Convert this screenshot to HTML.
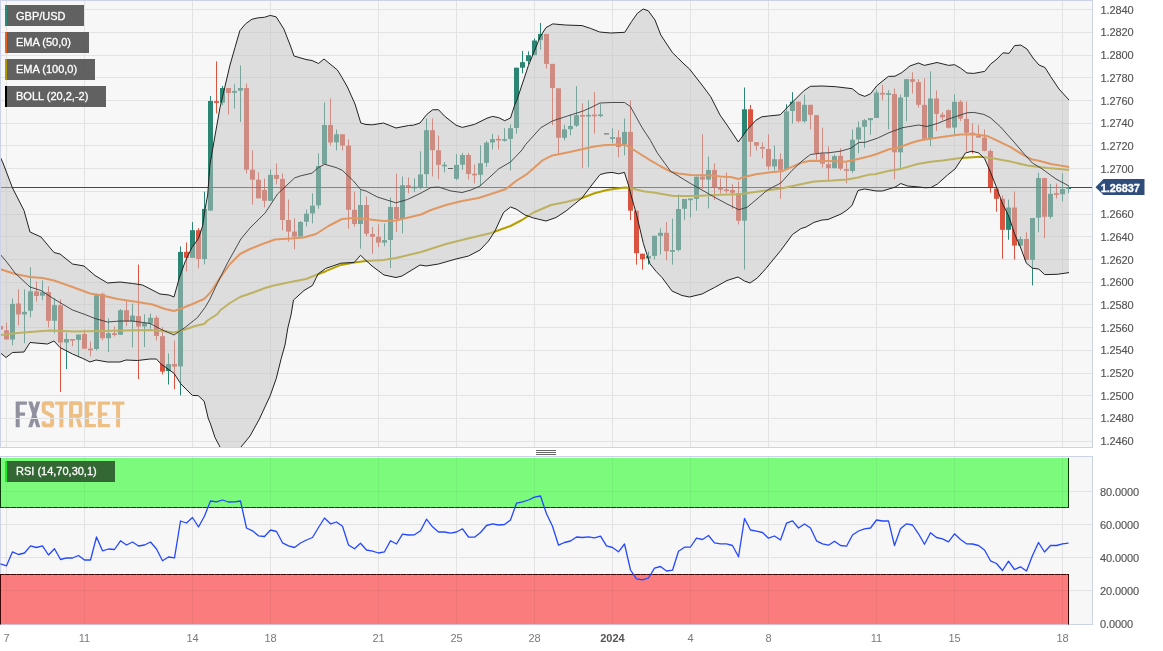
<!DOCTYPE html><html><head><meta charset="utf-8"><title>GBP/USD</title>
<style>html,body{margin:0;padding:0;background:#fff}body{width:1163px;height:651px;overflow:hidden}svg{display:block;will-change:transform;transform:translateZ(0)}text{font-family:"Liberation Sans",sans-serif}</style></head><body>
<svg width="1163" height="651" viewBox="0 0 1163 651">
<defs><clipPath id="cm"><rect x="1" y="1" width="1091" height="446"/></clipPath><clipPath id="cr"><rect x="0" y="457" width="1092" height="167.6"/></clipPath></defs>
<rect width="1163" height="651" fill="#fff"/>
<rect x="0.5" y="0.5" width="1092" height="447" fill="#f7f7f7" stroke="#ccd3e8"/>
<rect x="0.5" y="456.5" width="1092" height="168" fill="#f7f7f7" stroke="#ccd3e8"/>
<g id="logo" fill="#8f919e">
<path d="M15.7,401.4H26.9V404.7H19.7V412.5H25V415.8H19.7V427.2H15.7Z"/>
<path d="M28.2,401.4H32.2L40.3,427.2H36.4Z"/><path d="M36.4,401.4H40.3L32.2,427.2H28.2Z"/>
</g><g fill="#eebf85">
<path d="M52.1,407.7V404.6Q52.1,403.2 50.7,403.2H45.1Q43.7,403.2 43.7,404.6V410.6Q43.7,411.6 44.7,412.1L51.1,415.3Q52.1,415.8 52.1,416.8V424Q52.1,425.4 50.7,425.4H45.1Q43.7,425.4 43.7,424V421.2" fill="none" stroke="#eebf85" stroke-width="3.9"/>
<path d="M55.1,401.4H67.8V404.7H63.4V427.2H59.4V404.7H55.1Z"/>
<path d="M69.1,401.4H73.1V427.2H69.1Z"/>
<path d="M71.1,403.1H79Q80.5,403.1 80.5,404.6V414.2Q80.5,415.7 79,415.7H71.1" fill="none" stroke="#eebf85" stroke-width="3.6"/>
<path d="M75.2,416.5H79.3L82.4,427.2H78.2Z"/>
<path d="M85,401.4H95.9V404.7H89V412.5H92.9V415.8H89V423.9H95.9V427.2H85Z"/>
<path d="M97.9,401.4H110.1V404.7H101.9V412.5H107.2V415.8H101.9V423.9H110.1V427.2H97.9Z"/>
<path d="M112.1,401.4H124.4V404.7H120.1V427.2H116.1V404.7H112.1Z"/>
</g>
<g stroke="#e3e3e3" stroke-width="1" shape-rendering="crispEdges">
<line x1="1" x2="1092" y1="9.5" y2="9.5"/>
<line x1="1" x2="1092" y1="32.5" y2="32.5"/>
<line x1="1" x2="1092" y1="55.5" y2="55.5"/>
<line x1="1" x2="1092" y1="77.5" y2="77.5"/>
<line x1="1" x2="1092" y1="100.5" y2="100.5"/>
<line x1="1" x2="1092" y1="123.5" y2="123.5"/>
<line x1="1" x2="1092" y1="145.5" y2="145.5"/>
<line x1="1" x2="1092" y1="168.5" y2="168.5"/>
<line x1="1" x2="1092" y1="191.5" y2="191.5"/>
<line x1="1" x2="1092" y1="214.5" y2="214.5"/>
<line x1="1" x2="1092" y1="236.5" y2="236.5"/>
<line x1="1" x2="1092" y1="259.5" y2="259.5"/>
<line x1="1" x2="1092" y1="282.5" y2="282.5"/>
<line x1="1" x2="1092" y1="304.5" y2="304.5"/>
<line x1="1" x2="1092" y1="327.5" y2="327.5"/>
<line x1="1" x2="1092" y1="350.5" y2="350.5"/>
<line x1="1" x2="1092" y1="373.5" y2="373.5"/>
<line x1="1" x2="1092" y1="395.5" y2="395.5"/>
<line x1="1" x2="1092" y1="418.5" y2="418.5"/>
<line x1="1" x2="1092" y1="441.5" y2="441.5"/>
<line x1="6.5" x2="6.5" y1="1" y2="447"/>
<line x1="6.5" x2="6.5" y1="457" y2="625"/>
<line x1="84.5" x2="84.5" y1="1" y2="447"/>
<line x1="84.5" x2="84.5" y1="457" y2="625"/>
<line x1="192.5" x2="192.5" y1="1" y2="447"/>
<line x1="192.5" x2="192.5" y1="457" y2="625"/>
<line x1="270.5" x2="270.5" y1="1" y2="447"/>
<line x1="270.5" x2="270.5" y1="457" y2="625"/>
<line x1="378.5" x2="378.5" y1="1" y2="447"/>
<line x1="378.5" x2="378.5" y1="457" y2="625"/>
<line x1="456.5" x2="456.5" y1="1" y2="447"/>
<line x1="456.5" x2="456.5" y1="457" y2="625"/>
<line x1="534.5" x2="534.5" y1="1" y2="447"/>
<line x1="534.5" x2="534.5" y1="457" y2="625"/>
<line x1="612.5" x2="612.5" y1="1" y2="447"/>
<line x1="612.5" x2="612.5" y1="457" y2="625"/>
<line x1="690.5" x2="690.5" y1="1" y2="447"/>
<line x1="690.5" x2="690.5" y1="457" y2="625"/>
<line x1="768.5" x2="768.5" y1="1" y2="447"/>
<line x1="768.5" x2="768.5" y1="457" y2="625"/>
<line x1="876.5" x2="876.5" y1="1" y2="447"/>
<line x1="876.5" x2="876.5" y1="457" y2="625"/>
<line x1="954.5" x2="954.5" y1="1" y2="447"/>
<line x1="954.5" x2="954.5" y1="457" y2="625"/>
<line x1="1062.5" x2="1062.5" y1="1" y2="447"/>
<line x1="1062.5" x2="1062.5" y1="457" y2="625"/>
<line x1="1" x2="1092" y1="491.5" y2="491.5"/>
<line x1="1" x2="1092" y1="524.5" y2="524.5"/>
<line x1="1" x2="1092" y1="557.5" y2="557.5"/>
<line x1="1" x2="1092" y1="590.5" y2="590.5"/>
</g>
<g clip-path="url(#cm)">
<g>
<rect x="0" y="322.0" width="1" height="10.0" fill="#d9533f"/>
<rect x="-2" y="326.0" width="5" height="3.5" fill="#d9533f"/>
<rect x="6" y="322.5" width="1" height="17.0" fill="#d9533f"/>
<rect x="4" y="330.3" width="5" height="9.2" fill="#d9533f"/>
<rect x="12" y="298.5" width="1" height="46.9" fill="#2a8572"/>
<rect x="10" y="303.9" width="5" height="35.6" fill="#2a8572"/>
<rect x="18" y="289.3" width="1" height="36.0" fill="#d9533f"/>
<rect x="16" y="303.5" width="5" height="10.9" fill="#d9533f"/>
<rect x="24" y="289.3" width="1" height="53.9" fill="#2a8572"/>
<rect x="22" y="311.9" width="5" height="2.5" fill="#2a8572"/>
<rect x="30" y="267.2" width="1" height="50.1" fill="#2a8572"/>
<rect x="28" y="291.3" width="5" height="19.4" fill="#2a8572"/>
<rect x="36" y="281.4" width="1" height="20.1" fill="#d9533f"/>
<rect x="34" y="291.3" width="5" height="4.7" fill="#d9533f"/>
<rect x="42" y="280.4" width="1" height="19.8" fill="#2a8572"/>
<rect x="40" y="292.2" width="5" height="3.5" fill="#2a8572"/>
<rect x="48" y="286.3" width="1" height="41.0" fill="#d9533f"/>
<rect x="46" y="292.2" width="5" height="28.6" fill="#d9533f"/>
<rect x="54" y="298.2" width="1" height="35.1" fill="#2a8572"/>
<rect x="52" y="305.2" width="5" height="15.6" fill="#2a8572"/>
<rect x="60" y="299.4" width="1" height="92.6" fill="#d9533f"/>
<rect x="58" y="305.2" width="5" height="37.3" fill="#d9533f"/>
<rect x="66" y="332.8" width="1" height="36.2" fill="#2a8572"/>
<rect x="64" y="339.0" width="5" height="3.5" fill="#2a8572"/>
<rect x="72" y="339.0" width="1" height="7.2" fill="#d9533f"/>
<rect x="70" y="339.0" width="5" height="1.7" fill="#d9533f"/>
<rect x="78" y="334.5" width="1" height="22.6" fill="#2a8572"/>
<rect x="76" y="334.5" width="5" height="5.4" fill="#2a8572"/>
<rect x="84" y="329.5" width="1" height="19.2" fill="#d9533f"/>
<rect x="82" y="334.0" width="5" height="14.7" fill="#d9533f"/>
<rect x="90" y="341.5" width="1" height="14.8" fill="#d9533f"/>
<rect x="88" y="348.6" width="5" height="1.7" fill="#d9533f"/>
<rect x="96" y="293.8" width="1" height="56.6" fill="#2a8572"/>
<rect x="94" y="295.2" width="5" height="53.8" fill="#2a8572"/>
<rect x="102" y="292.7" width="1" height="47.7" fill="#d9533f"/>
<rect x="100" y="293.8" width="5" height="44.4" fill="#d9533f"/>
<rect x="108" y="318.3" width="1" height="33.8" fill="#2a8572"/>
<rect x="106" y="333.2" width="5" height="5.0" fill="#2a8572"/>
<rect x="114" y="326.5" width="1" height="10.0" fill="#d9533f"/>
<rect x="112" y="333.2" width="5" height="1.8" fill="#d9533f"/>
<rect x="120" y="309.0" width="1" height="25.8" fill="#2a8572"/>
<rect x="118" y="310.2" width="5" height="24.6" fill="#2a8572"/>
<rect x="126" y="301.0" width="1" height="25.1" fill="#d9533f"/>
<rect x="124" y="310.2" width="5" height="11.3" fill="#d9533f"/>
<rect x="132" y="303.5" width="1" height="43.9" fill="#2a8572"/>
<rect x="130" y="315.6" width="5" height="5.9" fill="#2a8572"/>
<rect x="138" y="264.5" width="1" height="114.6" fill="#d9533f"/>
<rect x="136" y="316.1" width="5" height="10.4" fill="#d9533f"/>
<rect x="144" y="314.4" width="1" height="32.6" fill="#2a8572"/>
<rect x="142" y="322.8" width="5" height="3.7" fill="#2a8572"/>
<rect x="150" y="313.6" width="1" height="15.1" fill="#2a8572"/>
<rect x="148" y="317.8" width="5" height="5.8" fill="#2a8572"/>
<rect x="156" y="315.6" width="1" height="24.8" fill="#d9533f"/>
<rect x="154" y="317.8" width="5" height="18.1" fill="#d9533f"/>
<rect x="162" y="327.3" width="1" height="47.1" fill="#d9533f"/>
<rect x="160" y="336.2" width="5" height="35.4" fill="#d9533f"/>
<rect x="168" y="353.5" width="1" height="31.0" fill="#2a8572"/>
<rect x="166" y="364.0" width="5" height="7.1" fill="#2a8572"/>
<rect x="174" y="340.5" width="1" height="48.7" fill="#d9533f"/>
<rect x="172" y="364.0" width="5" height="2.6" fill="#d9533f"/>
<rect x="180" y="246.4" width="1" height="149.0" fill="#2a8572"/>
<rect x="178" y="251.9" width="5" height="114.5" fill="#2a8572"/>
<rect x="186" y="242.4" width="1" height="29.1" fill="#d9533f"/>
<rect x="184" y="251.9" width="5" height="5.9" fill="#d9533f"/>
<rect x="192" y="222.1" width="1" height="35.7" fill="#2a8572"/>
<rect x="190" y="230.2" width="5" height="27.6" fill="#2a8572"/>
<rect x="198" y="228.2" width="1" height="40.1" fill="#d9533f"/>
<rect x="196" y="230.2" width="5" height="28.8" fill="#d9533f"/>
<rect x="204" y="191.7" width="1" height="72.8" fill="#2a8572"/>
<rect x="202" y="208.9" width="5" height="50.1" fill="#2a8572"/>
<rect x="210" y="96.0" width="1" height="114.6" fill="#2a8572"/>
<rect x="208" y="101.0" width="5" height="109.6" fill="#2a8572"/>
<rect x="216" y="61.4" width="1" height="51.9" fill="#d9533f"/>
<rect x="214" y="101.2" width="5" height="1.7" fill="#d9533f"/>
<rect x="222" y="86.0" width="1" height="19.2" fill="#2a8572"/>
<rect x="220" y="88.0" width="5" height="14.7" fill="#2a8572"/>
<rect x="228" y="88.0" width="1" height="26.4" fill="#d9533f"/>
<rect x="226" y="88.0" width="5" height="5.0" fill="#d9533f"/>
<rect x="234" y="84.3" width="1" height="24.3" fill="#2a8572"/>
<rect x="232" y="91.0" width="5" height="1.7" fill="#2a8572"/>
<rect x="240" y="65.4" width="1" height="56.6" fill="#2a8572"/>
<rect x="238" y="88.0" width="5" height="2.7" fill="#2a8572"/>
<rect x="246" y="83.5" width="1" height="90.0" fill="#d9533f"/>
<rect x="244" y="88.0" width="5" height="81.7" fill="#d9533f"/>
<rect x="252" y="150.4" width="1" height="54.1" fill="#d9533f"/>
<rect x="250" y="169.7" width="5" height="10.0" fill="#d9533f"/>
<rect x="258" y="172.4" width="1" height="25.9" fill="#d9533f"/>
<rect x="256" y="179.7" width="5" height="18.6" fill="#d9533f"/>
<rect x="264" y="178.5" width="1" height="28.8" fill="#d9533f"/>
<rect x="262" y="190.0" width="5" height="10.8" fill="#d9533f"/>
<rect x="270" y="169.3" width="1" height="31.5" fill="#2a8572"/>
<rect x="268" y="174.9" width="5" height="25.9" fill="#2a8572"/>
<rect x="276" y="163.5" width="1" height="20.9" fill="#d9533f"/>
<rect x="274" y="174.9" width="5" height="4.0" fill="#d9533f"/>
<rect x="282" y="173.5" width="1" height="56.9" fill="#d9533f"/>
<rect x="280" y="178.9" width="5" height="41.1" fill="#d9533f"/>
<rect x="288" y="199.5" width="1" height="42.1" fill="#d9533f"/>
<rect x="286" y="220.0" width="5" height="11.6" fill="#d9533f"/>
<rect x="294" y="218.4" width="1" height="31.0" fill="#d9533f"/>
<rect x="292" y="231.6" width="5" height="5.0" fill="#d9533f"/>
<rect x="300" y="221.0" width="1" height="15.6" fill="#2a8572"/>
<rect x="298" y="222.0" width="5" height="14.6" fill="#2a8572"/>
<rect x="306" y="209.5" width="1" height="16.8" fill="#2a8572"/>
<rect x="304" y="213.7" width="5" height="8.0" fill="#2a8572"/>
<rect x="312" y="193.3" width="1" height="30.1" fill="#2a8572"/>
<rect x="310" y="205.7" width="5" height="7.7" fill="#2a8572"/>
<rect x="318" y="153.4" width="1" height="55.3" fill="#2a8572"/>
<rect x="316" y="166.0" width="5" height="39.3" fill="#2a8572"/>
<rect x="324" y="102.4" width="1" height="61.9" fill="#2a8572"/>
<rect x="322" y="125.0" width="5" height="39.3" fill="#2a8572"/>
<rect x="330" y="98.5" width="1" height="46.9" fill="#d9533f"/>
<rect x="328" y="125.0" width="5" height="17.5" fill="#d9533f"/>
<rect x="336" y="129.5" width="1" height="20.9" fill="#2a8572"/>
<rect x="334" y="134.3" width="5" height="8.0" fill="#2a8572"/>
<rect x="342" y="134.3" width="1" height="16.1" fill="#d9533f"/>
<rect x="340" y="134.3" width="5" height="11.3" fill="#d9533f"/>
<rect x="348" y="139.5" width="1" height="89.3" fill="#d9533f"/>
<rect x="346" y="145.6" width="5" height="64.2" fill="#d9533f"/>
<rect x="354" y="191.6" width="1" height="35.0" fill="#d9533f"/>
<rect x="352" y="209.8" width="5" height="14.2" fill="#d9533f"/>
<rect x="360" y="189.4" width="1" height="59.2" fill="#2a8572"/>
<rect x="358" y="205.0" width="5" height="19.0" fill="#2a8572"/>
<rect x="366" y="196.6" width="1" height="39.7" fill="#d9533f"/>
<rect x="364" y="205.0" width="5" height="28.7" fill="#d9533f"/>
<rect x="372" y="227.0" width="1" height="26.7" fill="#d9533f"/>
<rect x="370" y="234.0" width="5" height="2.8" fill="#d9533f"/>
<rect x="378" y="224.4" width="1" height="22.7" fill="#d9533f"/>
<rect x="376" y="236.8" width="5" height="5.8" fill="#d9533f"/>
<rect x="384" y="223.5" width="1" height="22.8" fill="#2a8572"/>
<rect x="382" y="240.1" width="5" height="2.5" fill="#2a8572"/>
<rect x="390" y="197.5" width="1" height="70.5" fill="#2a8572"/>
<rect x="388" y="207.0" width="5" height="33.0" fill="#2a8572"/>
<rect x="396" y="173.5" width="1" height="58.5" fill="#d9533f"/>
<rect x="394" y="207.0" width="5" height="12.0" fill="#d9533f"/>
<rect x="402" y="176.5" width="1" height="56.9" fill="#2a8572"/>
<rect x="400" y="185.2" width="5" height="33.8" fill="#2a8572"/>
<rect x="408" y="177.3" width="1" height="15.9" fill="#d9533f"/>
<rect x="406" y="185.2" width="5" height="1.8" fill="#d9533f"/>
<rect x="414" y="178.3" width="1" height="13.8" fill="#2a8572"/>
<rect x="412" y="186.7" width="5" height="1.7" fill="#2a8572"/>
<rect x="420" y="151.3" width="1" height="38.1" fill="#2a8572"/>
<rect x="418" y="174.4" width="5" height="13.1" fill="#2a8572"/>
<rect x="426" y="118.5" width="1" height="68.9" fill="#2a8572"/>
<rect x="424" y="130.2" width="5" height="43.9" fill="#2a8572"/>
<rect x="432" y="118.5" width="1" height="57.9" fill="#d9533f"/>
<rect x="430" y="130.2" width="5" height="20.0" fill="#d9533f"/>
<rect x="438" y="135.6" width="1" height="43.7" fill="#d9533f"/>
<rect x="436" y="150.3" width="5" height="14.6" fill="#d9533f"/>
<rect x="444" y="162.0" width="1" height="10.3" fill="#2a8572"/>
<rect x="442" y="164.7" width="5" height="1.7" fill="#2a8572"/>
<rect x="448" y="168" width="5" height="1" fill="#000" shape-rendering="geometricPrecision"/>
<rect x="456" y="154.1" width="1" height="26.1" fill="#2a8572"/>
<rect x="454" y="164.9" width="5" height="13.9" fill="#2a8572"/>
<rect x="462" y="152.9" width="1" height="16.8" fill="#2a8572"/>
<rect x="460" y="155.0" width="5" height="9.7" fill="#2a8572"/>
<rect x="468" y="152.9" width="1" height="26.6" fill="#d9533f"/>
<rect x="466" y="155.0" width="5" height="19.0" fill="#d9533f"/>
<rect x="474" y="164.5" width="1" height="19.0" fill="#d9533f"/>
<rect x="472" y="173.7" width="5" height="1.7" fill="#d9533f"/>
<rect x="480" y="145.3" width="1" height="39.9" fill="#2a8572"/>
<rect x="478" y="163.2" width="5" height="11.6" fill="#2a8572"/>
<rect x="486" y="141.0" width="1" height="25.7" fill="#2a8572"/>
<rect x="484" y="142.7" width="5" height="20.2" fill="#2a8572"/>
<rect x="492" y="133.9" width="1" height="15.6" fill="#2a8572"/>
<rect x="490" y="139.1" width="5" height="3.4" fill="#2a8572"/>
<rect x="498" y="135.3" width="1" height="14.2" fill="#d9533f"/>
<rect x="496" y="138.8" width="5" height="1.7" fill="#d9533f"/>
<rect x="504" y="128.2" width="1" height="13.4" fill="#2a8572"/>
<rect x="502" y="139.1" width="5" height="1.7" fill="#2a8572"/>
<rect x="510" y="124.4" width="1" height="46.1" fill="#2a8572"/>
<rect x="508" y="128.2" width="5" height="10.7" fill="#2a8572"/>
<rect x="516" y="67.7" width="1" height="65.9" fill="#2a8572"/>
<rect x="514" y="67.7" width="5" height="60.3" fill="#2a8572"/>
<rect x="522" y="51.0" width="1" height="22.3" fill="#2a8572"/>
<rect x="520" y="62.2" width="5" height="5.5" fill="#2a8572"/>
<rect x="528" y="51.3" width="1" height="13.1" fill="#2a8572"/>
<rect x="526" y="55.2" width="5" height="5.8" fill="#2a8572"/>
<rect x="534" y="38.5" width="1" height="16.7" fill="#2a8572"/>
<rect x="532" y="40.5" width="5" height="14.7" fill="#2a8572"/>
<rect x="540" y="23.0" width="1" height="26.7" fill="#2a8572"/>
<rect x="538" y="33.9" width="5" height="6.2" fill="#2a8572"/>
<rect x="546" y="33.9" width="1" height="34.7" fill="#d9533f"/>
<rect x="544" y="33.9" width="5" height="30.0" fill="#d9533f"/>
<rect x="552" y="63.9" width="1" height="61.3" fill="#d9533f"/>
<rect x="550" y="63.9" width="5" height="24.0" fill="#d9533f"/>
<rect x="558" y="88.3" width="1" height="65.4" fill="#d9533f"/>
<rect x="556" y="88.3" width="5" height="49.5" fill="#d9533f"/>
<rect x="564" y="124.7" width="1" height="15.6" fill="#2a8572"/>
<rect x="562" y="129.4" width="5" height="8.4" fill="#2a8572"/>
<rect x="570" y="114.7" width="1" height="20.6" fill="#2a8572"/>
<rect x="568" y="126.0" width="5" height="3.2" fill="#2a8572"/>
<rect x="576" y="86.3" width="1" height="40.6" fill="#2a8572"/>
<rect x="574" y="115.2" width="5" height="10.4" fill="#2a8572"/>
<rect x="582" y="103.4" width="1" height="64.8" fill="#d9533f"/>
<rect x="580" y="115.0" width="5" height="1.7" fill="#d9533f"/>
<rect x="588" y="100.4" width="1" height="66.9" fill="#2a8572"/>
<rect x="586" y="114.8" width="5" height="1.7" fill="#2a8572"/>
<rect x="594" y="92.1" width="1" height="41.4" fill="#d9533f"/>
<rect x="592" y="114.6" width="5" height="1.7" fill="#d9533f"/>
<rect x="600" y="104.2" width="1" height="13.1" fill="#2a8572"/>
<rect x="598" y="114.4" width="5" height="1.7" fill="#2a8572"/>
<rect x="604" y="133.4" width="5" height="1" fill="#000" shape-rendering="geometricPrecision"/>
<rect x="612" y="128.2" width="1" height="14.8" fill="#2a8572"/>
<rect x="610" y="137.2" width="5" height="1.7" fill="#2a8572"/>
<rect x="618" y="130.2" width="1" height="27.1" fill="#d9533f"/>
<rect x="616" y="137.2" width="5" height="9.8" fill="#d9533f"/>
<rect x="624" y="118.5" width="1" height="36.8" fill="#2a8572"/>
<rect x="622" y="131.9" width="5" height="12.5" fill="#2a8572"/>
<rect x="630" y="100.4" width="1" height="119.8" fill="#d9533f"/>
<rect x="628" y="131.9" width="5" height="78.8" fill="#d9533f"/>
<rect x="636" y="210.7" width="1" height="53.9" fill="#d9533f"/>
<rect x="634" y="210.7" width="5" height="42.5" fill="#d9533f"/>
<rect x="642" y="253.7" width="1" height="15.9" fill="#d9533f"/>
<rect x="640" y="253.7" width="5" height="5.5" fill="#d9533f"/>
<rect x="648" y="251.5" width="1" height="13.1" fill="#2a8572"/>
<rect x="646" y="256.2" width="5" height="2.2" fill="#2a8572"/>
<rect x="654" y="235.8" width="1" height="23.8" fill="#2a8572"/>
<rect x="652" y="235.8" width="5" height="20.1" fill="#2a8572"/>
<rect x="660" y="228.3" width="1" height="26.2" fill="#2a8572"/>
<rect x="658" y="232.8" width="5" height="3.0" fill="#2a8572"/>
<rect x="666" y="222.2" width="1" height="38.2" fill="#d9533f"/>
<rect x="664" y="232.8" width="5" height="18.4" fill="#d9533f"/>
<rect x="672" y="218.5" width="1" height="46.1" fill="#2a8572"/>
<rect x="670" y="250.1" width="5" height="1.7" fill="#2a8572"/>
<rect x="678" y="194.3" width="1" height="57.2" fill="#2a8572"/>
<rect x="676" y="209.0" width="5" height="41.0" fill="#2a8572"/>
<rect x="684" y="199.0" width="1" height="21.2" fill="#2a8572"/>
<rect x="682" y="199.0" width="5" height="9.8" fill="#2a8572"/>
<rect x="690" y="198.8" width="1" height="18.6" fill="#2a8572"/>
<rect x="688" y="198.5" width="5" height="1.7" fill="#2a8572"/>
<rect x="696" y="176.7" width="1" height="34.0" fill="#2a8572"/>
<rect x="694" y="176.7" width="5" height="22.1" fill="#2a8572"/>
<rect x="702" y="134.4" width="1" height="54.6" fill="#d9533f"/>
<rect x="700" y="176.7" width="5" height="2.9" fill="#d9533f"/>
<rect x="708" y="156.5" width="1" height="52.0" fill="#2a8572"/>
<rect x="706" y="170.0" width="5" height="9.6" fill="#2a8572"/>
<rect x="714" y="163.3" width="1" height="36.5" fill="#d9533f"/>
<rect x="712" y="170.0" width="5" height="17.3" fill="#d9533f"/>
<rect x="720" y="178.5" width="1" height="14.9" fill="#d9533f"/>
<rect x="718" y="188.0" width="5" height="1.7" fill="#d9533f"/>
<rect x="726" y="172.5" width="1" height="20.3" fill="#d9533f"/>
<rect x="724" y="189.4" width="5" height="1.7" fill="#d9533f"/>
<rect x="732" y="184.2" width="1" height="24.6" fill="#d9533f"/>
<rect x="730" y="190.0" width="5" height="2.8" fill="#d9533f"/>
<rect x="738" y="181.4" width="1" height="43.0" fill="#d9533f"/>
<rect x="736" y="193.0" width="5" height="27.7" fill="#d9533f"/>
<rect x="744" y="87.5" width="1" height="182.1" fill="#2a8572"/>
<rect x="742" y="109.3" width="5" height="111.4" fill="#2a8572"/>
<rect x="750" y="105.0" width="1" height="51.6" fill="#d9533f"/>
<rect x="748" y="109.3" width="5" height="32.5" fill="#d9533f"/>
<rect x="756" y="142.2" width="1" height="8.3" fill="#d9533f"/>
<rect x="754" y="142.2" width="5" height="3.4" fill="#d9533f"/>
<rect x="762" y="142.5" width="1" height="15.8" fill="#d9533f"/>
<rect x="760" y="147.0" width="5" height="1.7" fill="#d9533f"/>
<rect x="768" y="134.4" width="1" height="35.5" fill="#d9533f"/>
<rect x="766" y="149.0" width="5" height="17.5" fill="#d9533f"/>
<rect x="774" y="145.6" width="1" height="24.8" fill="#2a8572"/>
<rect x="772" y="159.2" width="5" height="7.3" fill="#2a8572"/>
<rect x="780" y="153.3" width="1" height="45.5" fill="#d9533f"/>
<rect x="778" y="159.2" width="5" height="10.7" fill="#d9533f"/>
<rect x="786" y="104.3" width="1" height="64.9" fill="#2a8572"/>
<rect x="784" y="111.4" width="5" height="57.8" fill="#2a8572"/>
<rect x="792" y="92.2" width="1" height="31.3" fill="#2a8572"/>
<rect x="790" y="101.7" width="5" height="9.3" fill="#2a8572"/>
<rect x="798" y="101.7" width="1" height="21.0" fill="#d9533f"/>
<rect x="796" y="101.7" width="5" height="19.6" fill="#d9533f"/>
<rect x="804" y="94.7" width="1" height="28.0" fill="#2a8572"/>
<rect x="802" y="104.8" width="5" height="16.5" fill="#2a8572"/>
<rect x="810" y="104.8" width="1" height="24.6" fill="#d9533f"/>
<rect x="808" y="104.8" width="5" height="10.0" fill="#d9533f"/>
<rect x="816" y="115.1" width="1" height="44.7" fill="#d9533f"/>
<rect x="814" y="115.1" width="5" height="38.2" fill="#d9533f"/>
<rect x="822" y="127.7" width="1" height="39.8" fill="#d9533f"/>
<rect x="820" y="153.6" width="5" height="10.1" fill="#d9533f"/>
<rect x="828" y="146.4" width="1" height="33.5" fill="#d9533f"/>
<rect x="826" y="164.2" width="5" height="4.0" fill="#d9533f"/>
<rect x="834" y="154.5" width="1" height="13.7" fill="#2a8572"/>
<rect x="832" y="156.1" width="5" height="12.1" fill="#2a8572"/>
<rect x="840" y="148.3" width="1" height="22.1" fill="#d9533f"/>
<rect x="838" y="155.8" width="5" height="12.9" fill="#d9533f"/>
<rect x="846" y="162.5" width="1" height="20.9" fill="#d9533f"/>
<rect x="844" y="169.2" width="5" height="1.7" fill="#d9533f"/>
<rect x="852" y="129.4" width="1" height="43.5" fill="#2a8572"/>
<rect x="850" y="139.7" width="5" height="31.2" fill="#2a8572"/>
<rect x="858" y="121.5" width="1" height="31.8" fill="#2a8572"/>
<rect x="856" y="127.4" width="5" height="12.0" fill="#2a8572"/>
<rect x="864" y="119.0" width="1" height="28.8" fill="#2a8572"/>
<rect x="862" y="120.2" width="5" height="6.6" fill="#2a8572"/>
<rect x="870" y="118.1" width="1" height="16.6" fill="#2a8572"/>
<rect x="868" y="118.1" width="5" height="2.1" fill="#2a8572"/>
<rect x="876" y="89.7" width="1" height="28.3" fill="#2a8572"/>
<rect x="874" y="92.5" width="5" height="25.5" fill="#2a8572"/>
<rect x="882" y="84.8" width="1" height="15.6" fill="#d9533f"/>
<rect x="880" y="92.8" width="5" height="1.8" fill="#d9533f"/>
<rect x="888" y="90.2" width="1" height="39.2" fill="#2a8572"/>
<rect x="886" y="93.2" width="5" height="1.7" fill="#2a8572"/>
<rect x="894" y="88.5" width="1" height="90.7" fill="#d9533f"/>
<rect x="892" y="94.0" width="5" height="58.3" fill="#d9533f"/>
<rect x="900" y="94.5" width="1" height="73.4" fill="#2a8572"/>
<rect x="898" y="97.5" width="5" height="54.8" fill="#2a8572"/>
<rect x="906" y="79.2" width="1" height="42.0" fill="#2a8572"/>
<rect x="904" y="79.2" width="5" height="17.7" fill="#2a8572"/>
<rect x="912" y="72.2" width="1" height="21.3" fill="#d9533f"/>
<rect x="910" y="79.2" width="5" height="2.6" fill="#d9533f"/>
<rect x="918" y="79.2" width="1" height="28.2" fill="#d9533f"/>
<rect x="916" y="82.1" width="5" height="22.7" fill="#d9533f"/>
<rect x="924" y="78.4" width="1" height="60.4" fill="#d9533f"/>
<rect x="922" y="104.9" width="5" height="33.9" fill="#d9533f"/>
<rect x="930" y="71.4" width="1" height="74.8" fill="#2a8572"/>
<rect x="928" y="98.5" width="5" height="39.8" fill="#2a8572"/>
<rect x="936" y="90.5" width="1" height="40.6" fill="#d9533f"/>
<rect x="934" y="98.5" width="5" height="15.4" fill="#d9533f"/>
<rect x="942" y="112.2" width="1" height="8.1" fill="#d9533f"/>
<rect x="940" y="114.7" width="5" height="2.7" fill="#d9533f"/>
<rect x="948" y="109.4" width="1" height="19.2" fill="#d9533f"/>
<rect x="946" y="110.2" width="5" height="17.6" fill="#d9533f"/>
<rect x="954" y="94.3" width="1" height="40.2" fill="#2a8572"/>
<rect x="952" y="101.8" width="5" height="25.7" fill="#2a8572"/>
<rect x="960" y="100.2" width="1" height="20.9" fill="#d9533f"/>
<rect x="958" y="101.8" width="5" height="16.8" fill="#d9533f"/>
<rect x="966" y="101.5" width="1" height="50.0" fill="#d9533f"/>
<rect x="964" y="118.9" width="5" height="13.9" fill="#d9533f"/>
<rect x="972" y="123.3" width="1" height="30.2" fill="#d9533f"/>
<rect x="970" y="132.7" width="5" height="1.7" fill="#d9533f"/>
<rect x="978" y="124.8" width="1" height="12.7" fill="#d9533f"/>
<rect x="976" y="135.9" width="5" height="1.7" fill="#d9533f"/>
<rect x="984" y="129.5" width="1" height="21.8" fill="#d9533f"/>
<rect x="982" y="137.6" width="5" height="13.2" fill="#d9533f"/>
<rect x="990" y="149.3" width="1" height="43.4" fill="#d9533f"/>
<rect x="988" y="151.0" width="5" height="36.9" fill="#d9533f"/>
<rect x="996" y="188.6" width="1" height="23.1" fill="#d9533f"/>
<rect x="994" y="188.6" width="5" height="10.2" fill="#d9533f"/>
<rect x="1002" y="195.3" width="1" height="63.4" fill="#d9533f"/>
<rect x="1000" y="198.8" width="5" height="31.0" fill="#d9533f"/>
<rect x="1008" y="199.6" width="1" height="40.1" fill="#2a8572"/>
<rect x="1006" y="207.5" width="5" height="22.3" fill="#2a8572"/>
<rect x="1014" y="191.5" width="1" height="68.0" fill="#d9533f"/>
<rect x="1012" y="207.5" width="5" height="38.1" fill="#d9533f"/>
<rect x="1020" y="236.4" width="1" height="9.2" fill="#2a8572"/>
<rect x="1018" y="239.0" width="5" height="6.6" fill="#2a8572"/>
<rect x="1026" y="232.2" width="1" height="27.6" fill="#d9533f"/>
<rect x="1024" y="239.0" width="5" height="20.8" fill="#d9533f"/>
<rect x="1032" y="218.0" width="1" height="67.4" fill="#2a8572"/>
<rect x="1030" y="218.0" width="5" height="41.8" fill="#2a8572"/>
<rect x="1038" y="172.7" width="1" height="59.5" fill="#2a8572"/>
<rect x="1036" y="178.0" width="5" height="39.7" fill="#2a8572"/>
<rect x="1044" y="178.0" width="1" height="60.2" fill="#d9533f"/>
<rect x="1042" y="178.0" width="5" height="38.8" fill="#d9533f"/>
<rect x="1050" y="184.0" width="1" height="34.6" fill="#2a8572"/>
<rect x="1048" y="193.8" width="5" height="23.0" fill="#2a8572"/>
<rect x="1056" y="183.6" width="1" height="14.9" fill="#d9533f"/>
<rect x="1054" y="193.2" width="5" height="1.7" fill="#d9533f"/>
<rect x="1062" y="173.2" width="1" height="28.2" fill="#2a8572"/>
<rect x="1060" y="189.0" width="5" height="5.2" fill="#2a8572"/>
<rect x="1068" y="186.0" width="1" height="7.3" fill="#2a8572"/>
<rect x="1066" y="187.3" width="5" height="1.7" fill="#2a8572"/>
</g>
<rect x="0" y="187" width="1092" height="1" fill="#2c4a7c" shape-rendering="crispEdges"/>
<polyline points="0.0,269.0 15.0,274.0 30.0,277.0 42.5,278.0 54.0,280.5 72.5,287.0 90.0,293.5 102.5,295.5 117.5,299.0 137.5,302.0 152.5,304.5 165.0,309.0 174.0,311.0 180.0,309.0 192.5,304.0 204.0,299.0 210.0,293.0 220.0,278.0 230.0,264.0 240.0,254.0 250.0,249.0 262.5,244.0 275.0,239.5 291.0,238.5 303.5,237.5 316.0,234.0 328.5,226.0 342.0,219.0 353.5,218.0 366.0,219.0 383.5,221.0 396.0,220.5 408.5,217.5 421.0,214.5 431.0,210.0 446.0,205.0 462.0,201.0 478.5,198.0 491.0,194.0 506.0,189.0 516.0,181.0 527.3,173.8 542.4,160.4 552.4,155.4 567.5,152.4 582.0,149.2 594.0,146.5 603.5,145.3 618.6,144.5 627.0,145.6 637.0,152.0 650.4,160.4 660.0,166.0 670.5,171.6 678.6,173.5 690.6,175.0 712.4,175.6 720.5,176.4 730.8,177.0 738.3,179.0 747.5,176.3 757.0,174.0 768.5,172.6 781.9,171.3 793.6,166.2 802.0,162.5 810.4,160.7 828.8,161.0 845.5,161.7 859.0,158.7 870.4,156.0 877.4,153.7 889.0,149.3 895.8,148.6 910.9,143.0 919.3,140.5 930.0,138.7 947.0,136.2 960.4,134.6 973.8,134.2 987.0,135.9 997.2,140.6 1010.6,147.2 1024.0,155.4 1032.4,159.6 1039.0,160.7 1050.8,164.0 1060.0,165.6 1069.0,166.9" fill="none" stroke="#ff6a00" stroke-width="2" stroke-linejoin="round"/>
<polyline points="0.0,335.0 15.0,333.3 30.0,332.0 50.0,330.5 75.0,331.5 100.0,331.0 125.0,330.5 150.0,330.0 162.5,331.0 174.0,332.5 185.0,329.5 195.0,326.0 204.0,324.0 207.5,320.5 217.5,314.0 220.0,310.5 230.0,303.0 240.0,297.0 253.8,292.2 265.0,288.0 273.9,285.5 290.5,282.0 306.0,279.0 316.0,275.0 325.8,271.2 340.9,264.9 354.3,262.4 366.0,261.0 383.5,260.0 396.0,258.0 421.0,252.0 446.0,244.0 466.0,239.0 491.0,233.0 510.5,226.0 522.0,220.0 533.5,212.5 551.0,205.0 566.0,202.0 582.0,198.0 594.5,193.2 607.0,190.0 624.5,187.6 630.0,188.0 644.5,191.5 653.5,192.6 673.6,196.0 695.4,196.0 720.5,194.8 738.9,194.3 762.4,191.0 780.8,188.4 800.9,184.2 814.0,181.4 832.0,180.5 847.0,179.4 858.0,177.5 869.0,174.6 875.0,174.3 889.0,170.7 895.0,170.0 902.5,168.4 917.5,164.0 930.5,161.7 942.5,160.5 960.4,158.0 980.5,156.8 993.9,158.4 1010.6,161.6 1027.4,165.5 1047.5,168.0 1060.0,169.0 1069.0,170.0" fill="none" stroke="#b5a000" stroke-width="2" stroke-linejoin="round"/>
<polygon points="0.0,156.5 3.0,163.0 12.5,188.0 24.0,210.5 30.0,232.0 41.0,237.0 54.0,252.5 60.0,254.0 72.5,264.0 84.0,266.0 95.0,275.5 107.5,283.0 120.0,282.0 132.5,283.5 142.5,285.0 160.0,294.0 169.0,295.0 174.0,297.0 179.0,279.0 185.0,262.0 191.8,247.7 198.5,238.5 202.6,226.0 205.2,208.4 207.7,195.0 210.0,164.0 220.0,107.5 230.0,65.0 235.0,47.5 239.9,30.6 245.7,23.7 252.0,19.2 258.2,17.8 264.4,17.3 270.3,15.4 276.2,16.9 283.8,28.9 290.5,46.0 294.0,56.0 306.0,59.5 312.0,60.5 318.5,63.5 324.0,59.0 337.4,70.0 342.0,77.5 347.4,87.0 355.0,104.0 360.8,123.0 366.0,124.5 372.5,124.8 383.5,123.0 396.0,128.0 408.5,125.5 413.4,125.2 420.0,123.0 426.8,114.4 432.6,109.8 438.5,109.7 444.4,116.0 456.0,125.2 462.3,127.4 474.5,124.4 487.0,118.2 492.6,116.4 498.8,117.7 504.7,120.7 510.5,118.0 514.7,105.0 516.8,100.4 528.5,65.3 540.2,36.8 546.0,27.6 552.8,23.9 565.4,25.0 582.0,25.6 590.5,28.4 599.7,32.0 610.6,33.0 624.8,32.3 631.5,21.7 637.4,13.3 643.2,9.0 648.3,10.8 655.0,20.0 660.8,35.0 672.5,52.7 677.6,57.7 684.0,64.0 689.5,69.0 702.0,85.0 710.7,96.7 720.0,115.0 727.0,125.0 738.3,142.0 747.5,129.4 756.0,120.2 761.8,116.8 768.5,116.0 780.2,114.8 792.0,102.6 803.7,90.9 810.4,86.3 822.0,86.0 835.5,86.7 852.2,88.7 859.0,94.2 864.8,96.4 870.7,93.7 876.6,86.0 880.0,83.1 888.4,76.4 895.0,76.2 901.8,72.6 910.0,65.9 918.5,63.0 924.4,65.4 937.0,62.5 948.7,65.4 954.5,64.7 960.4,68.0 967.0,73.0 973.8,73.4 984.7,71.4 990.5,64.2 997.0,59.0 1003.0,52.8 1009.0,53.4 1014.6,45.6 1020.8,45.1 1027.0,49.0 1033.0,58.0 1039.0,65.0 1045.0,67.5 1050.8,76.8 1059.0,89.0 1069.0,100.0 1069.0,272.6 1057.2,274.3 1044.7,274.6 1038.8,269.1 1032.5,268.2 1026.4,263.2 1020.4,247.0 1014.5,233.6 1008.7,216.0 1002.8,204.3 996.0,186.0 990.0,171.0 984.7,158.8 978.8,153.0 972.0,151.2 965.4,153.0 961.0,160.0 955.0,169.0 947.5,175.0 937.5,184.0 931.0,187.5 925.0,187.8 919.3,187.0 907.5,186.0 900.8,183.5 895.0,187.2 889.0,189.0 882.4,191.0 876.0,191.0 869.0,189.7 864.5,189.0 858.0,190.5 852.0,205.5 847.0,210.0 841.0,214.0 828.0,219.5 822.0,220.0 814.0,222.4 806.0,227.0 800.9,228.6 792.5,234.5 780.8,250.4 765.7,268.8 757.3,278.0 750.0,283.0 744.5,281.0 738.0,277.0 727.0,280.5 714.5,287.5 702.0,294.0 689.5,297.0 682.0,295.5 672.0,291.0 662.0,277.5 656.0,271.3 650.0,263.8 643.4,243.7 636.7,215.2 631.0,195.0 628.6,185.5 624.4,172.4 618.6,173.8 612.0,172.4 606.0,173.0 600.0,174.6 591.0,186.0 582.0,198.0 566.0,211.0 556.0,217.5 546.0,221.0 533.5,218.0 525.0,215.0 516.0,209.0 510.5,207.0 503.5,212.5 495.0,231.0 488.5,241.0 480.0,250.0 468.5,256.0 456.0,259.0 438.5,264.0 426.0,266.0 420.0,265.0 402.0,276.0 396.0,277.5 384.0,275.0 372.0,266.0 366.0,260.5 360.5,255.3 354.3,262.4 340.9,263.2 325.8,268.4 318.2,273.8 312.4,285.5 304.0,290.5 294.7,299.0 293.5,300.0 291.0,315.0 287.9,327.6 285.0,345.0 281.2,358.6 276.2,378.7 270.3,395.4 259.4,419.0 250.0,436.0 241.0,447.0 237.0,456.0 230.0,462.0 224.0,456.0 220.0,447.0 215.0,437.5 210.0,422.5 208.4,419.0 204.2,401.3 198.3,395.7 192.4,395.4 186.0,389.0 180.7,383.7 174.0,373.3 168.0,369.0 160.6,363.6 156.4,359.0 150.0,359.0 137.5,360.5 126.0,360.0 120.0,362.0 107.5,362.0 96.0,360.0 90.0,362.0 84.0,359.0 72.5,354.0 60.0,347.5 54.0,341.0 47.5,344.0 30.0,342.5 24.0,352.0 12.5,352.5 6.0,357.5 0.0,352.5" fill="rgb(196,196,196)" fill-opacity="0.5"/>
<polyline points="0.0,254.0 7.5,263.0 15.0,273.0 30.0,287.0 41.0,290.5 54.0,299.0 72.5,310.0 85.0,314.5 95.0,318.5 107.5,322.0 120.0,321.0 132.5,321.0 150.0,323.5 162.5,330.0 174.0,335.0 185.0,327.5 197.5,317.5 205.0,307.5 209.5,300.0 217.5,283.0 227.5,263.0 240.9,239.0 250.0,228.0 265.2,212.9 277.5,194.0 294.5,178.0 300.0,176.0 312.0,173.2 318.5,167.5 324.6,164.3 336.0,167.5 342.2,170.2 353.5,181.0 360.6,189.5 366.0,191.0 377.4,197.0 395.8,202.8 407.5,199.5 421.0,193.0 431.0,187.5 438.5,187.0 451.0,191.0 462.0,192.5 471.0,190.0 480.0,186.0 491.0,176.0 498.8,168.8 510.5,162.0 522.0,150.0 525.6,144.5 540.7,127.8 552.4,121.0 567.5,116.0 582.6,111.2 591.0,107.5 600.0,103.0 611.9,102.5 624.4,102.5 630.3,106.4 642.0,127.5 650.4,140.3 657.0,152.5 670.5,171.2 690.3,183.4 702.0,190.0 713.8,196.8 727.0,204.0 738.9,209.7 747.3,207.2 757.0,199.0 767.4,190.0 780.8,183.0 792.0,170.4 802.0,161.0 810.4,154.5 822.0,153.0 828.8,152.8 840.5,151.2 850.6,148.3 859.0,142.4 864.8,142.4 877.4,138.2 889.0,132.7 902.5,127.7 918.5,125.0 926.9,126.5 937.0,123.6 948.0,119.2 954.5,117.0 967.0,112.8 973.8,112.4 983.8,114.4 990.5,117.8 1000.6,127.0 1014.0,142.0 1024.0,153.8 1032.4,163.0 1040.8,168.0 1045.0,171.0 1056.0,179.0 1069.0,186.0" fill="none" stroke="#3a3a3a" stroke-width="0.9"/>
<polyline points="0.0,156.5 3.0,163.0 12.5,188.0 24.0,210.5 30.0,232.0 41.0,237.0 54.0,252.5 60.0,254.0 72.5,264.0 84.0,266.0 95.0,275.5 107.5,283.0 120.0,282.0 132.5,283.5 142.5,285.0 160.0,294.0 169.0,295.0 174.0,297.0 179.0,279.0 185.0,262.0 191.8,247.7 198.5,238.5 202.6,226.0 205.2,208.4 207.7,195.0 210.0,164.0 220.0,107.5 230.0,65.0 235.0,47.5 239.9,30.6 245.7,23.7 252.0,19.2 258.2,17.8 264.4,17.3 270.3,15.4 276.2,16.9 283.8,28.9 290.5,46.0 294.0,56.0 306.0,59.5 312.0,60.5 318.5,63.5 324.0,59.0 337.4,70.0 342.0,77.5 347.4,87.0 355.0,104.0 360.8,123.0 366.0,124.5 372.5,124.8 383.5,123.0 396.0,128.0 408.5,125.5 413.4,125.2 420.0,123.0 426.8,114.4 432.6,109.8 438.5,109.7 444.4,116.0 456.0,125.2 462.3,127.4 474.5,124.4 487.0,118.2 492.6,116.4 498.8,117.7 504.7,120.7 510.5,118.0 514.7,105.0 516.8,100.4 528.5,65.3 540.2,36.8 546.0,27.6 552.8,23.9 565.4,25.0 582.0,25.6 590.5,28.4 599.7,32.0 610.6,33.0 624.8,32.3 631.5,21.7 637.4,13.3 643.2,9.0 648.3,10.8 655.0,20.0 660.8,35.0 672.5,52.7 677.6,57.7 684.0,64.0 689.5,69.0 702.0,85.0 710.7,96.7 720.0,115.0 727.0,125.0 738.3,142.0 747.5,129.4 756.0,120.2 761.8,116.8 768.5,116.0 780.2,114.8 792.0,102.6 803.7,90.9 810.4,86.3 822.0,86.0 835.5,86.7 852.2,88.7 859.0,94.2 864.8,96.4 870.7,93.7 876.6,86.0 880.0,83.1 888.4,76.4 895.0,76.2 901.8,72.6 910.0,65.9 918.5,63.0 924.4,65.4 937.0,62.5 948.7,65.4 954.5,64.7 960.4,68.0 967.0,73.0 973.8,73.4 984.7,71.4 990.5,64.2 997.0,59.0 1003.0,52.8 1009.0,53.4 1014.6,45.6 1020.8,45.1 1027.0,49.0 1033.0,58.0 1039.0,65.0 1045.0,67.5 1050.8,76.8 1059.0,89.0 1069.0,100.0" fill="none" stroke="#222" stroke-width="1"/>
<polyline points="0.0,352.5 6.0,357.5 12.5,352.5 24.0,352.0 30.0,342.5 47.5,344.0 54.0,341.0 60.0,347.5 72.5,354.0 84.0,359.0 90.0,362.0 96.0,360.0 107.5,362.0 120.0,362.0 126.0,360.0 137.5,360.5 150.0,359.0 156.4,359.0 160.6,363.6 168.0,369.0 174.0,373.3 180.7,383.7 186.0,389.0 192.4,395.4 198.3,395.7 204.2,401.3 208.4,419.0 210.0,422.5 215.0,437.5 220.0,447.0 224.0,456.0 230.0,462.0 237.0,456.0 241.0,447.0 250.0,436.0 259.4,419.0 270.3,395.4 276.2,378.7 281.2,358.6 285.0,345.0 287.9,327.6 291.0,315.0 293.5,300.0 294.7,299.0 304.0,290.5 312.4,285.5 318.2,273.8 325.8,268.4 340.9,263.2 354.3,262.4 360.5,255.3 366.0,260.5 372.0,266.0 384.0,275.0 396.0,277.5 402.0,276.0 420.0,265.0 426.0,266.0 438.5,264.0 456.0,259.0 468.5,256.0 480.0,250.0 488.5,241.0 495.0,231.0 503.5,212.5 510.5,207.0 516.0,209.0 525.0,215.0 533.5,218.0 546.0,221.0 556.0,217.5 566.0,211.0 582.0,198.0 591.0,186.0 600.0,174.6 606.0,173.0 612.0,172.4 618.6,173.8 624.4,172.4 628.6,185.5 631.0,195.0 636.7,215.2 643.4,243.7 650.0,263.8 656.0,271.3 662.0,277.5 672.0,291.0 682.0,295.5 689.5,297.0 702.0,294.0 714.5,287.5 727.0,280.5 738.0,277.0 744.5,281.0 750.0,283.0 757.3,278.0 765.7,268.8 780.8,250.4 792.5,234.5 800.9,228.6 806.0,227.0 814.0,222.4 822.0,220.0 828.0,219.5 841.0,214.0 847.0,210.0 852.0,205.5 858.0,190.5 864.5,189.0 869.0,189.7 876.0,191.0 882.4,191.0 889.0,189.0 895.0,187.2 900.8,183.5 907.5,186.0 919.3,187.0 925.0,187.8 931.0,187.5 937.5,184.0 947.5,175.0 955.0,169.0 961.0,160.0 965.4,153.0 972.0,151.2 978.8,153.0 984.7,158.8 990.0,171.0 996.0,186.0 1002.8,204.3 1008.7,216.0 1014.5,233.6 1020.4,247.0 1026.4,263.2 1032.5,268.2 1038.8,269.1 1044.7,274.6 1057.2,274.3 1069.0,272.6" fill="none" stroke="#222" stroke-width="1"/>
</g>
<rect x="5" y="5" width="79" height="21" fill="#545454" fill-opacity="0.92"/>
<rect x="5" y="5" width="2" height="21" fill="#2a8a78"/>
<text x="16" y="20" font-size="11" fill="#fff" stroke="#fff" stroke-width="0.3">GBP/USD</text>
<rect x="5" y="32" width="84" height="21" fill="#545454" fill-opacity="0.92"/>
<rect x="5" y="32" width="2" height="21" fill="#e8601c"/>
<text x="16" y="46" font-size="11" fill="#fff" stroke="#fff" stroke-width="0.3">EMA (50,0)</text>
<rect x="5" y="59" width="90" height="21" fill="#545454" fill-opacity="0.92"/>
<rect x="5" y="59" width="2" height="21" fill="#b09800"/>
<text x="16" y="73" font-size="11" fill="#fff" stroke="#fff" stroke-width="0.3">EMA (100,0)</text>
<rect x="5" y="86" width="101" height="21" fill="#545454" fill-opacity="0.92"/>
<rect x="5" y="86" width="2" height="21" fill="#000"/>
<text x="16" y="100" font-size="11" fill="#fff" stroke="#fff" stroke-width="0.3">BOLL (20,2,-2)</text>
<text x="1100.5" y="14" font-size="11" fill="#555" stroke="#555" stroke-width="0.15" letter-spacing="-0.12">1.2840</text>
<text x="1100.5" y="36" font-size="11" fill="#555" stroke="#555" stroke-width="0.15" letter-spacing="-0.12">1.2820</text>
<text x="1100.5" y="59" font-size="11" fill="#555" stroke="#555" stroke-width="0.15" letter-spacing="-0.12">1.2800</text>
<text x="1100.5" y="82" font-size="11" fill="#555" stroke="#555" stroke-width="0.15" letter-spacing="-0.12">1.2780</text>
<text x="1100.5" y="105" font-size="11" fill="#555" stroke="#555" stroke-width="0.15" letter-spacing="-0.12">1.2760</text>
<text x="1100.5" y="127" font-size="11" fill="#555" stroke="#555" stroke-width="0.15" letter-spacing="-0.12">1.2740</text>
<text x="1100.5" y="150" font-size="11" fill="#555" stroke="#555" stroke-width="0.15" letter-spacing="-0.12">1.2720</text>
<text x="1100.5" y="173" font-size="11" fill="#555" stroke="#555" stroke-width="0.15" letter-spacing="-0.12">1.2700</text>
<text x="1100.5" y="218" font-size="11" fill="#555" stroke="#555" stroke-width="0.15" letter-spacing="-0.12">1.2660</text>
<text x="1100.5" y="241" font-size="11" fill="#555" stroke="#555" stroke-width="0.15" letter-spacing="-0.12">1.2640</text>
<text x="1100.5" y="264" font-size="11" fill="#555" stroke="#555" stroke-width="0.15" letter-spacing="-0.12">1.2620</text>
<text x="1100.5" y="286" font-size="11" fill="#555" stroke="#555" stroke-width="0.15" letter-spacing="-0.12">1.2600</text>
<text x="1100.5" y="309" font-size="11" fill="#555" stroke="#555" stroke-width="0.15" letter-spacing="-0.12">1.2580</text>
<text x="1100.5" y="332" font-size="11" fill="#555" stroke="#555" stroke-width="0.15" letter-spacing="-0.12">1.2560</text>
<text x="1100.5" y="354" font-size="11" fill="#555" stroke="#555" stroke-width="0.15" letter-spacing="-0.12">1.2540</text>
<text x="1100.5" y="377" font-size="11" fill="#555" stroke="#555" stroke-width="0.15" letter-spacing="-0.12">1.2520</text>
<text x="1100.5" y="400" font-size="11" fill="#555" stroke="#555" stroke-width="0.15" letter-spacing="-0.12">1.2500</text>
<text x="1100.5" y="422" font-size="11" fill="#555" stroke="#555" stroke-width="0.15" letter-spacing="-0.12">1.2480</text>
<text x="1100.5" y="445" font-size="11" fill="#555" stroke="#555" stroke-width="0.15" letter-spacing="-0.12">1.2460</text>
<polygon points="1095.5,187.2 1103.5,179 1144.5,179 1144.5,195 1103.5,195" fill="#2e4d7b"/>
<text x="1100.8" y="192" font-size="11" font-weight="bold" fill="#fff" stroke="#fff" stroke-width="0.3" letter-spacing="-0.1">1.26837</text>
<g clip-path="url(#cr)">
<rect x="1" y="458" width="1068" height="50" fill="#7cfa7c"/>
<rect x="1" y="574" width="1068" height="50.5" fill="#fa7c7c"/>
<g stroke="#000" stroke-opacity="0.045" shape-rendering="crispEdges">
<line x1="6.5" x2="6.5" y1="458" y2="507"/><line x1="6.5" x2="6.5" y1="575" y2="625"/>
<line x1="84.5" x2="84.5" y1="458" y2="507"/><line x1="84.5" x2="84.5" y1="575" y2="625"/>
<line x1="192.5" x2="192.5" y1="458" y2="507"/><line x1="192.5" x2="192.5" y1="575" y2="625"/>
<line x1="270.5" x2="270.5" y1="458" y2="507"/><line x1="270.5" x2="270.5" y1="575" y2="625"/>
<line x1="378.5" x2="378.5" y1="458" y2="507"/><line x1="378.5" x2="378.5" y1="575" y2="625"/>
<line x1="456.5" x2="456.5" y1="458" y2="507"/><line x1="456.5" x2="456.5" y1="575" y2="625"/>
<line x1="534.5" x2="534.5" y1="458" y2="507"/><line x1="534.5" x2="534.5" y1="575" y2="625"/>
<line x1="612.5" x2="612.5" y1="458" y2="507"/><line x1="612.5" x2="612.5" y1="575" y2="625"/>
<line x1="690.5" x2="690.5" y1="458" y2="507"/><line x1="690.5" x2="690.5" y1="575" y2="625"/>
<line x1="768.5" x2="768.5" y1="458" y2="507"/><line x1="768.5" x2="768.5" y1="575" y2="625"/>
<line x1="876.5" x2="876.5" y1="458" y2="507"/><line x1="876.5" x2="876.5" y1="575" y2="625"/>
<line x1="954.5" x2="954.5" y1="458" y2="507"/><line x1="954.5" x2="954.5" y1="575" y2="625"/>
<line x1="1062.5" x2="1062.5" y1="458" y2="507"/><line x1="1062.5" x2="1062.5" y1="575" y2="625"/>
<line x1="1" x2="1069" y1="491.5" y2="491.5"/><line x1="1" x2="1069" y1="590.5" y2="590.5"/>
</g>
<g stroke="#083808" stroke-width="1" shape-rendering="crispEdges">
<line x1="0.5" x2="0.5" y1="458" y2="508"/><line x1="1068.5" x2="1068.5" y1="458" y2="508"/>
</g><g stroke="#3a0606" stroke-width="1" shape-rendering="crispEdges">
<line x1="0.5" x2="0.5" y1="574" y2="625"/><line x1="1068.5" x2="1068.5" y1="574" y2="625"/>
</g><g stroke-width="1" shape-rendering="crispEdges">
<line x1="0" x2="1069" y1="507.5" y2="507.5" stroke="#083808"/>
<line x1="4" x2="1069" y1="507.5" y2="507.5" stroke="#7cfa7c" stroke-opacity="0.4" stroke-dasharray="1 5"/>
<line x1="0" x2="1069" y1="574.5" y2="574.5" stroke="#3a0606"/>
<line x1="4" x2="1069" y1="574.5" y2="574.5" stroke="#fa7c7c" stroke-opacity="0.4" stroke-dasharray="1 5"/>
</g>
<polyline points="0.5,563.8 6.5,565.8 12.5,551.8 18.5,554.5 24.5,553.0 30.5,545.8 36.5,547.5 42.5,545.8 48.5,555.0 54.5,548.8 60.5,559.5 66.5,557.8 72.5,558.0 78.5,555.5 84.5,560.0 90.5,560.0 96.5,537.0 102.5,550.8 108.5,549.0 114.5,549.5 120.5,540.8 126.5,545.0 132.5,542.0 138.5,546.0 144.5,545.0 150.5,542.0 156.5,549.0 162.5,560.8 168.5,557.0 174.5,557.8 180.5,521.0 186.5,523.0 192.5,517.5 198.5,527.0 204.5,516.0 210.5,501.0 216.5,501.8 222.5,500.0 228.5,502.0 234.5,501.8 240.5,501.0 246.5,528.0 252.5,530.8 258.5,535.8 264.5,536.5 270.5,530.0 276.5,531.5 282.5,542.8 288.5,545.8 294.5,547.5 300.5,543.0 306.5,540.0 312.5,537.5 318.5,527.5 324.5,518.0 330.5,523.8 336.5,522.0 342.5,526.2 348.5,545.0 354.5,548.8 360.5,543.2 366.5,550.0 372.5,551.2 378.5,553.0 384.5,551.8 390.5,540.8 396.5,544.0 402.5,534.2 408.5,535.0 414.5,534.8 420.5,530.8 426.5,519.2 432.5,526.8 438.5,532.0 444.5,532.0 450.5,533.2 456.5,532.0 462.5,528.8 468.5,537.0 474.5,537.2 480.5,532.5 486.5,525.5 492.5,523.8 498.5,525.0 504.5,524.5 510.5,520.0 516.5,503.2 522.5,501.8 528.5,500.0 534.5,497.2 540.5,496.0 546.5,513.8 552.5,526.2 558.5,545.2 564.5,542.5 570.5,541.0 576.5,537.0 582.5,537.5 588.5,536.8 594.5,537.8 600.5,536.2 606.5,545.8 612.5,547.5 618.5,551.8 624.5,544.0 630.5,570.0 636.5,578.8 642.5,579.8 648.5,578.0 654.5,568.2 660.5,566.5 666.5,571.0 672.5,570.2 678.5,551.2 684.5,547.2 690.5,547.0 696.5,538.2 702.5,539.5 708.5,535.5 714.5,542.8 720.5,543.8 726.5,543.8 732.5,545.5 738.5,556.8 744.5,518.5 750.5,530.0 756.5,531.2 762.5,532.5 768.5,538.2 774.5,536.0 780.5,540.0 786.5,523.2 792.5,520.8 798.5,528.0 804.5,524.0 810.5,528.0 816.5,540.8 822.5,543.8 828.5,545.2 834.5,541.2 840.5,545.5 846.5,546.2 852.5,535.0 858.5,531.0 864.5,528.8 870.5,528.0 876.5,520.0 882.5,521.0 888.5,520.8 894.5,545.5 900.5,528.8 906.5,523.8 912.5,525.0 918.5,533.8 924.5,544.2 930.5,532.8 936.5,537.5 942.5,538.8 948.5,541.8 954.5,533.8 960.5,539.5 966.5,543.8 972.5,544.0 978.5,545.5 984.5,550.0 990.5,560.8 996.5,563.5 1002.5,570.5 1008.5,561.2 1014.5,569.5 1020.5,566.8 1026.5,571.0 1032.5,555.5 1038.5,542.5 1044.5,552.0 1050.5,545.5 1056.5,545.5 1062.5,543.8 1068.5,543.2" fill="none" stroke="#2448ff" stroke-width="1.3" stroke-linejoin="round"/>
</g>
<rect x="5" y="461" width="110" height="21" fill="#2f5f2f" fill-opacity="0.95"/>
<rect x="5" y="461" width="2" height="21" fill="#1eea1e"/>
<text x="16" y="475" font-size="11" fill="#fff" stroke="#fff" stroke-width="0.3">RSI (14,70,30,1)</text>
<text x="1100" y="496.0" font-size="11" fill="#555" stroke="#555" stroke-width="0.15" letter-spacing="-0.12">80.0000</text>
<text x="1100" y="529.0" font-size="11" fill="#555" stroke="#555" stroke-width="0.15" letter-spacing="-0.12">60.0000</text>
<text x="1100" y="562.0" font-size="11" fill="#555" stroke="#555" stroke-width="0.15" letter-spacing="-0.12">40.0000</text>
<text x="1100" y="595.0" font-size="11" fill="#555" stroke="#555" stroke-width="0.15" letter-spacing="-0.12">20.0000</text>
<text x="1100" y="628.0" font-size="11" fill="#555" stroke="#555" stroke-width="0.15" letter-spacing="-0.12">0.0000</text>
<g stroke="#666" stroke-width="1" shape-rendering="crispEdges"><line x1="536" x2="556" y1="450.5" y2="450.5"/><line x1="536" x2="556" y1="452.5" y2="452.5"/><line x1="536" x2="556" y1="454.5" y2="454.5"/></g>
<text x="6.5" y="642" font-size="11" fill="#7a7a7a" text-anchor="middle">7</text>
<text x="84.5" y="642" font-size="11" fill="#7a7a7a" text-anchor="middle">11</text>
<text x="192.5" y="642" font-size="11" fill="#7a7a7a" text-anchor="middle">14</text>
<text x="270.5" y="642" font-size="11" fill="#7a7a7a" text-anchor="middle">18</text>
<text x="378.5" y="642" font-size="11" fill="#7a7a7a" text-anchor="middle">21</text>
<text x="456.5" y="642" font-size="11" fill="#7a7a7a" text-anchor="middle">25</text>
<text x="534.5" y="642" font-size="11" fill="#7a7a7a" text-anchor="middle">28</text>
<text x="612.5" y="642" font-size="11" font-weight="bold" fill="#555" text-anchor="middle">2024</text>
<text x="690.5" y="642" font-size="11" fill="#7a7a7a" text-anchor="middle">4</text>
<text x="768.5" y="642" font-size="11" fill="#7a7a7a" text-anchor="middle">8</text>
<text x="876.5" y="642" font-size="11" fill="#7a7a7a" text-anchor="middle">11</text>
<text x="954.5" y="642" font-size="11" fill="#7a7a7a" text-anchor="middle">15</text>
<text x="1062.5" y="642" font-size="11" fill="#7a7a7a" text-anchor="middle">18</text>
</svg></body></html>
